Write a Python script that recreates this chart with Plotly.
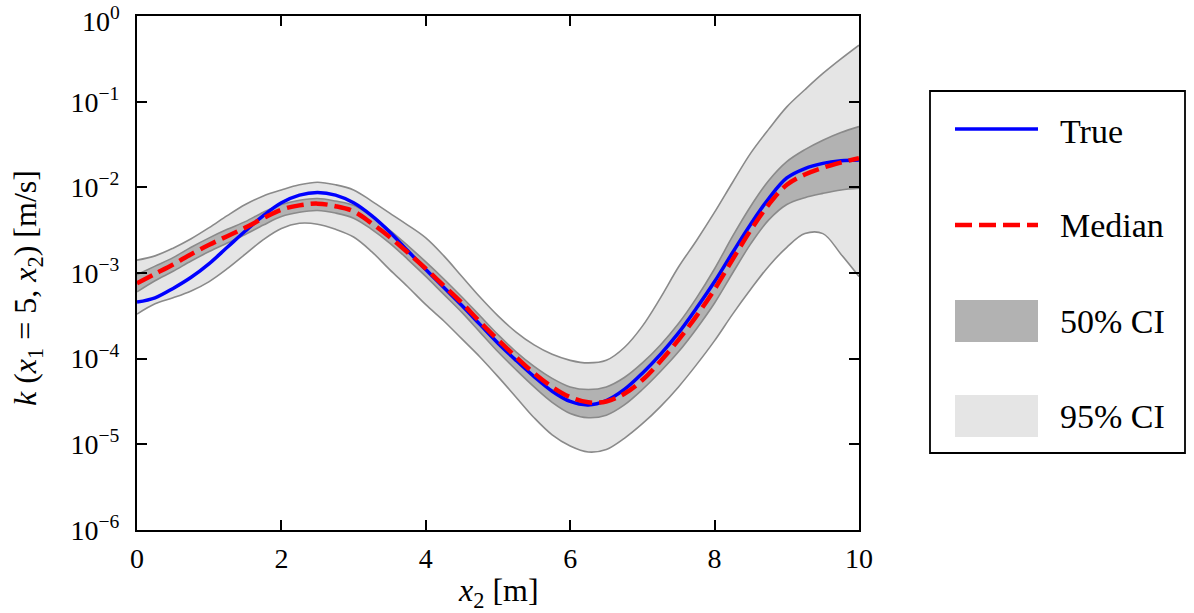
import numpy as np
import plotly.graph_objects as go

# ---- data (y values given as log10 of k [m/s]) ----
x2 = [0, 0.25, 0.5, 0.75, 1, 1.25, 1.5, 1.75, 2, 2.25, 2.5, 2.75, 3, 3.25, 3.5, 3.75,
      4, 4.25, 4.5, 4.75, 5, 5.25, 5.5, 5.75, 6, 6.25, 6.5, 6.75, 7, 7.25, 7.5, 7.75,
      8, 8.25, 8.5, 8.75, 9, 9.25, 9.5, 9.75, 10]

log_upper95 = [-2.85, -2.80, -2.71, -2.60, -2.47, -2.33, -2.20, -2.10, -2.03, -1.97, -1.94, -1.97,
               -2.03, -2.16, -2.30, -2.44, -2.59, -2.80, -3.04, -3.28, -3.50, -3.69, -3.84, -3.95,
               -4.02, -4.05, -4.02, -3.87, -3.62, -3.29, -2.93, -2.62, -2.29, -1.94, -1.60, -1.32,
               -1.06, -0.86, -0.67, -0.50, -0.34]
log_upper50 = [-3.02, -2.92, -2.82, -2.70, -2.59, -2.49, -2.40, -2.29, -2.20, -2.15, -2.13, -2.16,
               -2.21, -2.34, -2.50, -2.68, -2.87, -3.07, -3.28, -3.50, -3.72, -3.92, -4.09, -4.23,
               -4.33, -4.36, -4.33, -4.22, -4.05, -3.84, -3.59, -3.29, -2.95, -2.57, -2.22, -1.92,
               -1.70, -1.56, -1.45, -1.36, -1.29]
log_median = [-3.12, -3.01, -2.90, -2.78, -2.67, -2.57, -2.47, -2.36, -2.26, -2.21, -2.19, -2.22,
              -2.28, -2.42, -2.58, -2.76, -2.95, -3.15, -3.35, -3.57, -3.78, -3.98, -4.17, -4.33,
              -4.45, -4.51, -4.50, -4.41, -4.25, -4.03, -3.78, -3.50, -3.19, -2.84, -2.50, -2.20,
              -1.97, -1.85, -1.77, -1.71, -1.66]
log_lower50 = [-3.22, -3.09, -2.98, -2.86, -2.75, -2.65, -2.55, -2.44, -2.34, -2.29, -2.27, -2.30,
               -2.36, -2.49, -2.65, -2.84, -3.04, -3.25, -3.46, -3.69, -3.92, -4.13, -4.33, -4.51,
               -4.64, -4.69, -4.66, -4.54, -4.36, -4.15, -3.92, -3.65, -3.35, -3.00, -2.66, -2.38,
               -2.20, -2.12, -2.07, -2.03, -2.01]
log_true = [-3.34, -3.29, -3.18, -3.05, -2.89, -2.70, -2.51, -2.33, -2.18, -2.09, -2.06, -2.09,
            -2.18, -2.33, -2.52, -2.74, -2.96, -3.17, -3.38, -3.60, -3.82, -4.02, -4.21, -4.38,
            -4.50, -4.54, -4.49, -4.36, -4.17, -3.95, -3.70, -3.41, -3.10, -2.76, -2.43, -2.13,
            -1.89, -1.78, -1.72, -1.69, -1.68]
log_lower95 = [-3.48, -3.36, -3.29, -3.21, -3.10, -2.95, -2.78, -2.61, -2.48, -2.42, -2.43, -2.49,
               -2.58, -2.75, -2.96, -3.16, -3.37, -3.56, -3.77, -3.98, -4.21, -4.45, -4.69, -4.89,
               -5.02, -5.09, -5.06, -4.93, -4.76, -4.56, -4.33, -4.07, -3.79, -3.48, -3.19, -2.92,
               -2.70, -2.54, -2.54, -2.78, -3.04]

x_ticks = [0, 2, 4, 6, 8, 10]
y_tick_exp = [0, -1, -2, -3, -4, -5, -6]
legend_labels = ["True", "Median", "50% CI", "95% CI"]
y_title = "<i>k</i> (<i>x</i><sub>1</sub> = 5, <i>x</i><sub>2</sub>) [m/s]"
x_title = "<i>x</i><sub>2</sub> [m]"

# ---- styles ----
FONT = "Liberation Serif"
LIGHT = "#e5e5e5"
DARK = "#b2b2b2"
EDGE = "#8a8a8a"
BLUE = "#0000ff"
RED = "#ff0000"
SPL = dict(shape="spline", smoothing=1.0)

def k(v):
    return np.power(10.0, np.array(v))

fig = go.Figure()

def band(lo, hi, fillcolor):
    fig.add_trace(go.Scatter(x=x2, y=k(lo), mode="lines",
                             line=dict(color=EDGE, width=1.6, **SPL),
                             showlegend=False, hoverinfo="skip"))
    fig.add_trace(go.Scatter(x=x2, y=k(hi), mode="lines", fill="tonexty",
                             fillcolor=fillcolor,
                             line=dict(color=EDGE, width=1.6, **SPL),
                             showlegend=False, hoverinfo="skip"))

band(log_lower95, log_upper95, LIGHT)
band(log_lower50, log_upper50, DARK)

fig.add_trace(go.Scatter(x=x2, y=k(log_true), mode="lines",
                         line=dict(color=BLUE, width=3.5, **SPL),
                         name="True", showlegend=False))
fig.add_trace(go.Scatter(x=x2, y=k(log_median), mode="lines",
                         line=dict(color=RED, width=4.5, dash="17px,7px", **SPL),
                         name="Median", showlegend=False))

# ---- layout geometry (pixels) ----
W, H = 1194, 613
L, R, T, B = 137, 859, 16, 530

def pxx(px):
    return (px - L) / (R - L)

def pxy(py):
    return (B - py) / (B - T)

tick_text = ["10<sup>%s</sup>" % (str(e).replace("-", "\u2212")) for e in y_tick_exp]
top_label = tick_text[0]
tick_text[0] = " "   # top label drawn as an annotation so it is not clipped

fig.update_layout(
    width=W, height=H,
    margin=dict(l=L, r=W - R, t=T, b=H - B, autoexpand=False),
    paper_bgcolor="white", plot_bgcolor="white",
    font=dict(family=FONT, size=27, color="black"),
    showlegend=False,
    xaxis=dict(range=[0, 10], tickvals=x_ticks, ticks="inside", ticklen=10,
               tickwidth=1.5, tickcolor="black", showline=True, linecolor="black",
               linewidth=2, mirror="ticks", showgrid=False, zeroline=False,
               ticklabelstandoff=2, tickfont=dict(size=28), ticklabeloverflow="allow",
               automargin=False),
    yaxis=dict(type="log", range=[-6.001, 0.001], tickvals=[10.0 ** e for e in y_tick_exp],
               ticktext=tick_text, ticks="inside", ticklen=10, tickwidth=1.5,
               tickcolor="black", showline=True, linecolor="black", linewidth=2,
               mirror="ticks", showgrid=False, zeroline=False,
               ticklabelstandoff=10, tickfont=dict(size=28), ticklabeloverflow="allow",
               automargin=False),
)

fig.add_annotation(xref="paper", yref="paper", x=pxx(122), y=pxy(20), text=top_label,
                   showarrow=False, xanchor="right", yanchor="middle",
                   font=dict(family=FONT, size=28, color="black"))

# axis titles as annotations for exact placement
fig.add_annotation(xref="paper", yref="paper", x=pxx(27), y=pxy(288), text=y_title,
                   textangle=-90, showarrow=False, xanchor="center", yanchor="middle",
                   font=dict(family=FONT, size=32, color="black"))
fig.add_annotation(xref="paper", yref="paper", x=pxx(498), y=pxy(592), text=x_title,
                   showarrow=False, xanchor="center", yanchor="middle",
                   font=dict(family=FONT, size=32, color="black"))

# ---- manual legend ----
shapes = []
shapes.append(dict(type="rect", xref="paper", yref="paper",
                   x0=pxx(930), x1=pxx(1185), y0=pxy(453), y1=pxy(91),
                   line=dict(color="black", width=1.8), fillcolor="white", layer="above"))
sx0, sx1 = pxx(955), pxx(1038)
shapes.append(dict(type="line", xref="paper", yref="paper", x0=sx0, x1=sx1,
                   y0=pxy(129), y1=pxy(129), line=dict(color=BLUE, width=3.5)))
shapes.append(dict(type="line", xref="paper", yref="paper", x0=sx0, x1=sx1,
                   y0=pxy(225), y1=pxy(225), line=dict(color=RED, width=4.5, dash="17px,7px")))
shapes.append(dict(type="rect", xref="paper", yref="paper", x0=sx0, x1=sx1,
                   y0=pxy(342), y1=pxy(300), line=dict(width=0), fillcolor=DARK))
shapes.append(dict(type="rect", xref="paper", yref="paper", x0=sx0, x1=sx1,
                   y0=pxy(437), y1=pxy(395), line=dict(width=0), fillcolor=LIGHT))
fig.update_layout(shapes=shapes)

label_y = [131, 225, 321, 416]
for lab, py in zip(legend_labels, label_y):
    fig.add_annotation(xref="paper", yref="paper", x=pxx(1058), y=pxy(py),
                       text=lab, showarrow=False, xanchor="left", yanchor="middle",
                       font=dict(family=FONT, size=34, color="black"))

fig.write_html("out.html")
